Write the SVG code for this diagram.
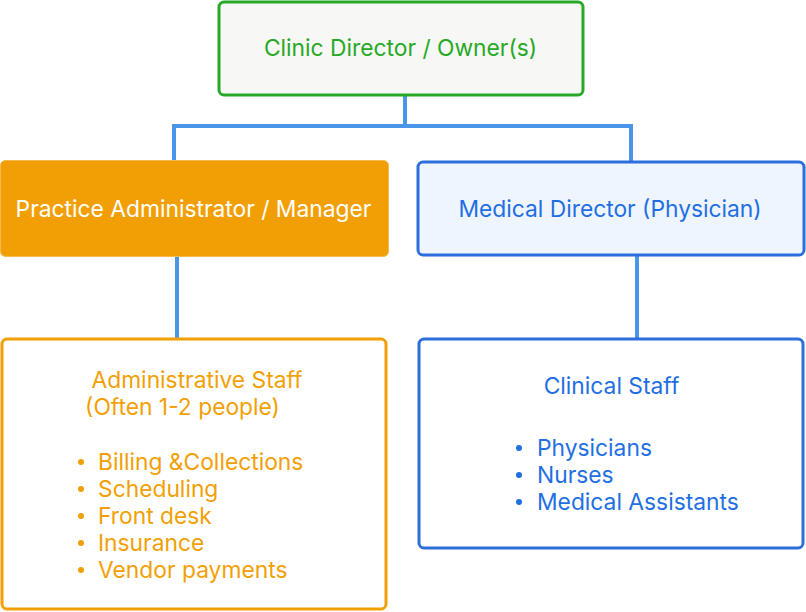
<svg xmlns="http://www.w3.org/2000/svg" width="806" height="612" viewBox="0 0 806 612">
<style>
text{font-family:Inter,"Noto Sans","Liberation Sans",sans-serif;font-size:22.8px}
.c{text-anchor:middle}
.conn{fill:none;stroke:#4a95e8;stroke-width:4}
.g{fill:#27a927}
.o{fill:#f29f05}
.b{fill:#1f6fe3}
.w{fill:#ffffff}
</style>
<rect width="806" height="612" fill="#ffffff"/>
<g id="connectors">
<path class="conn" d="M405 95 V126 M174 126 H631 M174 124 V161 M631 124 V161 M177 256 V339 M637 256 V339"/>
</g>
<g id="owner">
<rect x="219" y="2" width="364" height="93" rx="5" fill="#f7f7f5" stroke="#27a927" stroke-width="3"/>
<text class="c g" x="400.5" y="55.5">Clinic Director / Owner(s)</text>
</g>
<g id="practice-admin">
<rect x="0.5" y="160.5" width="388" height="96" rx="5" fill="#f29f05" stroke="#f5b84a" stroke-width="1"/>
<text class="c w" x="193.5" y="216.5">Practice Administrator / Manager</text>
</g>
<g id="medical-director">
<rect x="418" y="162" width="386" height="93" rx="5" fill="#eff5fe" stroke="#2a6fdb" stroke-width="3"/>
<text class="c b" x="610" y="216.5">Medical Director (Physician)</text>
</g>
<g id="admin-staff">
<rect x="2" y="339" width="384" height="270" rx="5" fill="#ffffff" stroke="#f29f05" stroke-width="3"/>
<text class="c o" x="197" y="387.5">Administrative Staff</text>
<text class="c o" x="182.5" y="414.5">(Often 1-2 people)</text>
<g class="o">
<circle cx="81" cy="462" r="3"/><circle cx="81" cy="489" r="3"/><circle cx="81" cy="516" r="3"/><circle cx="81" cy="543" r="3"/><circle cx="81" cy="570" r="3"/>
</g>
<text class="o" x="98" y="469.5">Billing &amp;Collections</text>
<text class="o" x="98" y="496.5">Scheduling</text>
<text class="o" x="98" y="523.5">Front desk</text>
<text class="o" x="98" y="550.5">Insurance</text>
<text class="o" x="98" y="577.5">Vendor payments</text>
</g>
<g id="clinical-staff">
<rect x="419" y="339" width="384" height="209" rx="5" fill="#ffffff" stroke="#2a6fdb" stroke-width="3"/>
<text class="c b" x="611.5" y="393.5">Clinical Staff</text>
<g class="b">
<circle cx="519" cy="448" r="3"/><circle cx="519" cy="475" r="3"/><circle cx="519" cy="502" r="3"/>
</g>
<text class="b" x="537" y="456">Physicians</text>
<text class="b" x="537" y="483">Nurses</text>
<text class="b" x="537" y="510">Medical Assistants</text>
</g>
</svg>
